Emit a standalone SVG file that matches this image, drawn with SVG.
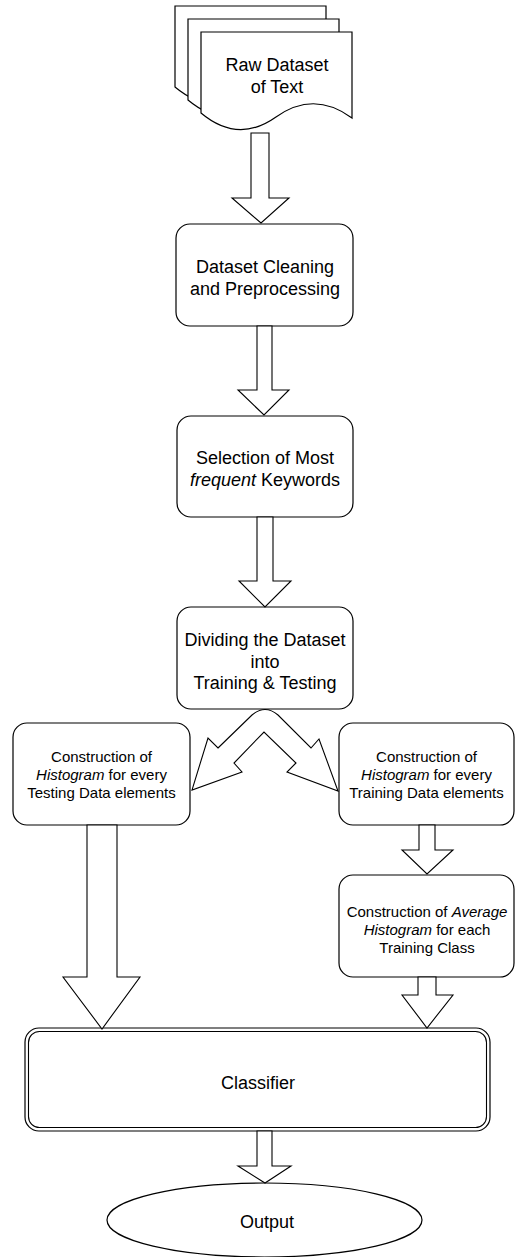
<svg xmlns="http://www.w3.org/2000/svg" width="515" height="1257" viewBox="0 0 515 1257">
<style>
.shape{fill:#fff;stroke:#000;stroke-width:1.2}
.arrow{fill:#fff;stroke:#000;stroke-width:1.1;stroke-linejoin:miter}
text{font-family:"Liberation Sans",Arial,Helvetica,sans-serif;fill:#000;text-anchor:middle}
.big{font-size:18px}
.small{font-size:15px}
.it{font-style:italic}
</style>
<defs>
<path id="docPage" d="M201,32 H352 V118 Q314,90 276,117 Q238,144 201,113 Z"/>
</defs>
<rect width="515" height="1257" fill="#fff"/>

<g id="node-raw-dataset">
<use href="#docPage" class="shape" transform="translate(-26,-26)"/>
<use href="#docPage" class="shape" transform="translate(-13,-13)"/>
<use href="#docPage" class="shape"/>
<text class="big" x="277" y="71">Raw Dataset</text>
<text class="big" x="277" y="93">of Text</text>
</g>

<g id="node-cleaning">
<rect class="shape" x="176" y="224" width="177" height="102" rx="14"/>
<text class="big" x="265" y="273">Dataset Cleaning</text>
<text class="big" x="265" y="295">and Preprocessing</text>
</g>

<g id="node-selection">
<rect class="shape" x="177" y="416" width="176" height="101" rx="14"/>
<text class="big" x="265" y="464">Selection of Most</text>
<text class="big" x="265" y="486"><tspan class="it">frequent</tspan> Keywords</text>
</g>

<g id="node-dividing">
<rect class="shape" x="177" y="607" width="176" height="102" rx="14"/>
<text class="big" x="265" y="646">Dividing the Dataset</text>
<text class="big" x="265" y="668">into</text>
<text class="big" x="265" y="689">Training &amp; Testing</text>
</g>

<g id="node-testing-hist">
<rect class="shape" x="13" y="723" width="177" height="102" rx="14"/>
<text class="small" x="101.5" y="762">Construction of</text>
<text class="small" x="101.5" y="780"><tspan class="it">Histogram</tspan> for every</text>
<text class="small" x="101.5" y="798">Testing Data elements</text>
</g>

<g id="node-training-hist">
<rect class="shape" x="339" y="723" width="175" height="102" rx="14"/>
<text class="small" x="426.5" y="762">Construction of</text>
<text class="small" x="426.5" y="780"><tspan class="it">Histogram</tspan> for every</text>
<text class="small" x="426.5" y="798">Training Data elements</text>
</g>

<g id="node-average-hist">
<rect class="shape" x="339" y="875" width="175" height="102" rx="14"/>
<text class="small" x="427" y="917">Construction of <tspan class="it">Average</tspan></text>
<text class="small" x="427" y="935"><tspan class="it">Histogram</tspan> for each</text>
<text class="small" x="427" y="953">Training Class</text>
</g>

<g id="node-classifier">
<rect class="shape" x="25" y="1028" width="465" height="103" rx="14"/>
<rect fill="none" stroke="#000" stroke-width="1.1" x="28.5" y="1031.5" width="458" height="96" rx="11"/>
<text class="big" x="258" y="1089">Classifier</text>
</g>

<g id="node-output">
<ellipse class="shape" cx="264.5" cy="1220" rx="157.5" ry="37"/>
<text class="big" x="267" y="1228">Output</text>
</g>

<g id="connectors">
<polygon class="arrow" points="251,133 269,133 269,198 289,198 261,223 232,198 251,198"/>
<polygon class="arrow" points="257,326 272,326 272,390 289,390 264,415 238,390 257,390"/>
<polygon class="arrow" points="257,517 273,517 273,581 291,581 265,607 239,581 257,581"/>
<path class="arrow" d="M218,748 L252,715 Q265,704 278,715 L311,748 L319,739 L338,791 L287,772 L296,763 L264,732 L234,763 L242,772 L192,790 L208,738 Z"/>
<polygon class="arrow" points="87,825 117,825 117,977 140,977 102,1029 63,977 87,977"/>
<polygon class="arrow" points="419,825 435,825 435,850 453,850 427,874 402,850 419,850"/>
<polygon class="arrow" points="418,977 436,977 436,995 453,995 427,1028 402,995 418,995"/>
<polygon class="arrow" points="257,1131 272,1131 272,1166 291,1166 265,1183 238,1166 257,1166"/>
</g>
</svg>
